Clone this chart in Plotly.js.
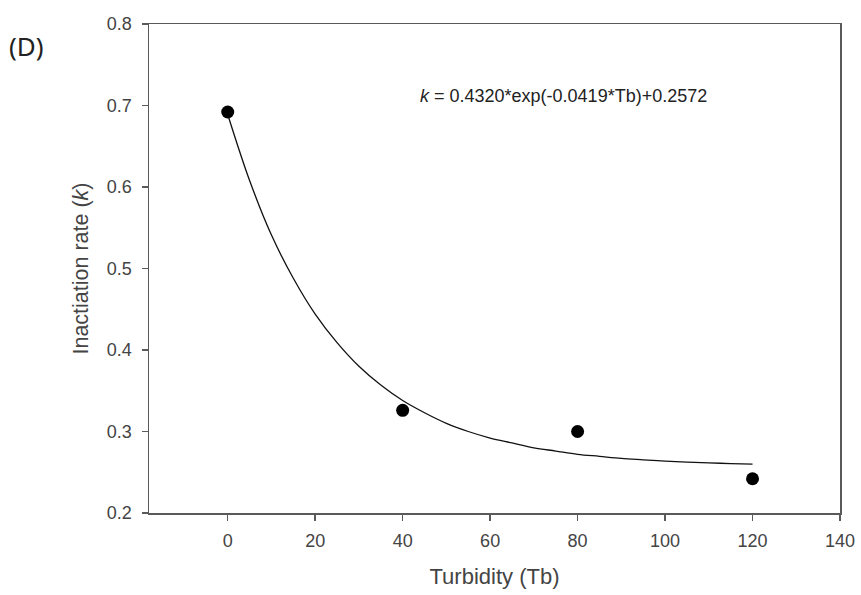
<!DOCTYPE html>
<html>
<head>
<meta charset="utf-8">
<script src="https://cdn.plot.ly/plotly-3.0.1.min.js"></script>
<style>html,body{margin:0;padding:0;background:#fff;}#chart{width:861px;height:595px;}</style>
</head>
<body>
<div id="chart"></div>
<script>
// Measured data points
const turbidity = [0, 40, 80, 120];
const rate = [0.692, 0.326, 0.300, 0.242];
// Fitted curve
const curveX = [0, 5, 10, 15, 20, 25, 30, 35, 40, 45, 50, 55, 60, 65, 70, 75, 80, 85, 90, 95, 100, 105, 110, 115, 120];
const curveY = [0.689, 0.608, 0.541, 0.488, 0.444, 0.409, 0.380, 0.357, 0.338, 0.323, 0.310, 0.300, 0.292, 0.286, 0.280, 0.276, 0.272, 0.2695, 0.267, 0.2653, 0.2637, 0.2625, 0.2615, 0.2607, 0.260];
const xTicks = [0, 20, 40, 60, 80, 100, 120, 140];
const yTicks = [0.2, 0.3, 0.4, 0.5, 0.6, 0.7, 0.8];

const font = 'Liberation Sans, Arial, sans-serif';
const traces = [
  {x: curveX, y: curveY, mode: 'lines', line: {color: '#111', width: 1.3, shape: 'spline'}, hoverinfo: 'skip'},
  {x: turbidity, y: rate, mode: 'markers', marker: {color: '#000', size: 13}}
];
const axisCommon = {
  showgrid: false, zeroline: false, showline: true, linecolor: '#5a5a5a', linewidth: 1.5,
  ticks: 'outside', ticklen: 6, tickwidth: 1.5, tickcolor: '#5a5a5a',
  tickfont: {family: font, size: 18, color: '#444'}, mirror: true
};
const layout = {
  width: 861, height: 595,
  margin: {l: 149, r: 21, t: 24, b: 82},
  paper_bgcolor: '#fff', plot_bgcolor: '#fff',
  showlegend: false,
  xaxis: Object.assign({}, axisCommon, {
    range: [-18, 140], tickvals: xTicks, ticktext: xTicks.map(String), ticklabelstandoff: 5,
    title: {text: 'Turbidity (Tb)', font: {family: font, size: 22, color: '#444'}, standoff: 18}
  }),
  yaxis: Object.assign({}, axisCommon, {
    range: [0.2, 0.8], tickvals: yTicks, ticktext: yTicks.map(v => v.toFixed(1)), ticklabelstandoff: 6,
    title: {text: 'Inactiation rate (<i>k</i>)', font: {family: font, size: 21.5, color: '#444'}, standoff: 12}
  }),
  annotations: [
    {xref: 'data', yref: 'data', x: 43.5, y: 0.712, xanchor: 'left', yanchor: 'middle', showarrow: false,
     text: '<i>k</i> = 0.4320*exp(-0.0419*Tb)+0.2572', font: {family: font, size: 18, color: '#222'}},
    {xref: 'paper', yref: 'paper', x: -0.206, y: 0.954, xanchor: 'left', yanchor: 'middle', showarrow: false,
     text: '(D)', font: {family: 'Noto Sans, sans-serif', size: 26, color: '#222'}}
  ]
};
Plotly.newPlot('chart', traces, layout, {displayModeBar: false, staticPlot: true});
</script>
</body>
</html>
